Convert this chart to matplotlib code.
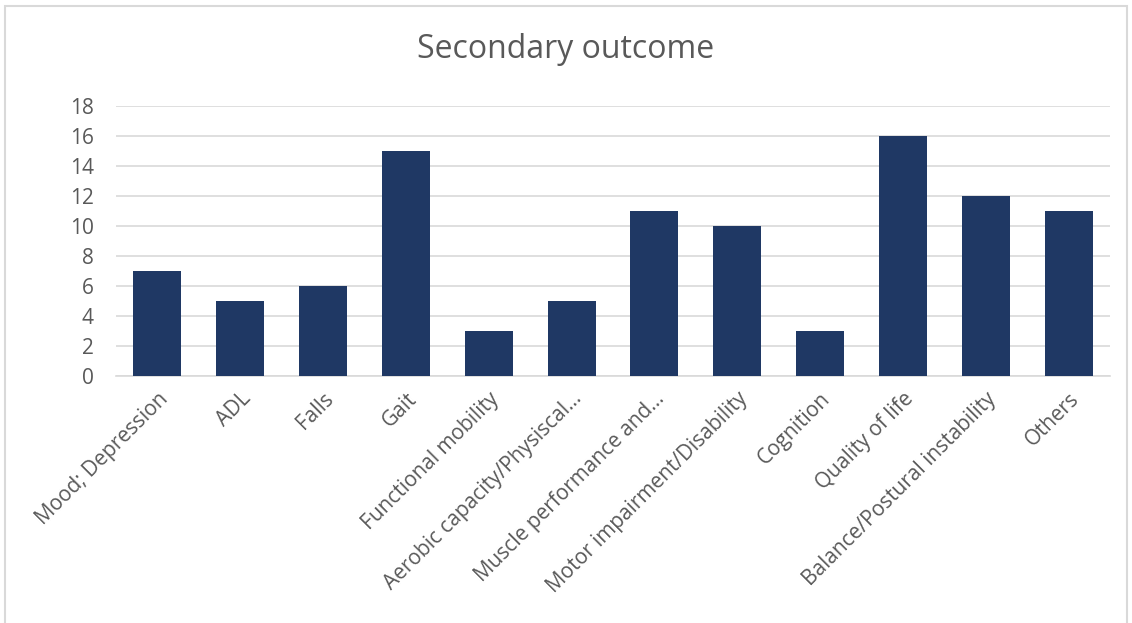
import matplotlib
matplotlib.use("Agg")
import matplotlib.pyplot as plt
from matplotlib.patches import Rectangle

categories = ["Mood; Depression", "ADL", "Falls", "Gait", "Functional mobility",
              "Aerobic capacity/Physiscal\u2026", "Muscle performance and\u2026",
              "Motor impairment/Disability", "Cognition", "Quality of life",
              "Balance/Postural instability", "Others"]
counts = [7, 5, 6, 15, 3, 5, 11, 10, 3, 16, 12, 11]
y_ticks = list(range(0, 20, 2))

plt.rcParams['font.family'] = ['Open Sans', 'DejaVu Sans']
text_color = '#595959'

fig = plt.figure(figsize=(11.32, 6.23), dpi=100)
ax = fig.add_axes([116/1132, 1 - 376/623, (1110-116)/1132, (376-106)/623])

x = list(range(len(categories)))
ax.bar(x, counts, width=0.58, color='#1F3864', zorder=3)

ax.set_xlim(-0.5, len(categories) - 0.5)
ax.set_ylim(0, 18)
ax.set_yticks(y_ticks)
ax.set_yticklabels([str(t) for t in y_ticks], fontsize=15, color=text_color)
ax.set_xticks(x)
ax.set_xticklabels(categories, rotation=45, ha='right', rotation_mode='anchor',
                   fontsize=15, color=text_color)
ax.tick_params(axis='both', length=0)
ax.tick_params(axis='y', pad=16)
ax.tick_params(axis='x', pad=9)
ax.grid(axis='y', color='#D9D9D9', linewidth=1.2, zorder=0)
for side in ['top', 'right', 'left']:
    ax.spines[side].set_visible(False)
ax.spines['bottom'].set_color('#D9D9D9')
ax.spines['bottom'].set_linewidth(1.2)

fig.text(0.5, 1 - 50/623, "Secondary outcome", ha='center', va='center',
         fontsize=23, color=text_color)

# light frame around the chart area
fig.add_artist(Rectangle((5/1132, -0.01), 1122/1132, 1 - 6/623 + 0.01,
                         transform=fig.transFigure, fill=False,
                         edgecolor='#D9D9D9', linewidth=1.5))

fig.savefig("out.png", dpi=100)
